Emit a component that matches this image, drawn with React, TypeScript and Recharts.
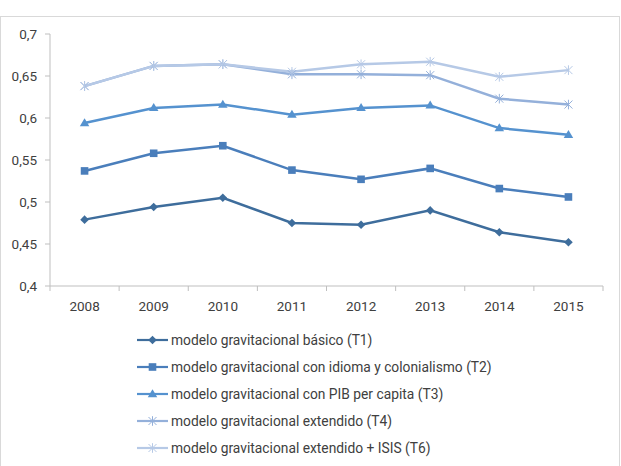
import React from 'react';
import { LineChart, Line, XAxis, YAxis, Legend } from 'recharts';

// Categories
const years = [2008, 2009, 2010, 2011, 2012, 2013, 2014, 2015];

// Series values per year
const basico = [0.479, 0.494, 0.505, 0.475, 0.473, 0.49, 0.464, 0.452];
const idiomaColonialismo = [0.537, 0.558, 0.567, 0.538, 0.527, 0.54, 0.516, 0.506];
const pibPerCapita = [0.594, 0.612, 0.616, 0.604, 0.612, 0.615, 0.588, 0.58];
const extendido = [0.638, 0.662, 0.664, 0.652, 0.652, 0.651, 0.623, 0.616];
const extendidoIsis = [0.638, 0.662, 0.664, 0.655, 0.664, 0.667, 0.649, 0.657];

// Axis ticks
const yTicks = [0.4, 0.45, 0.5, 0.55, 0.6, 0.65, 0.7];

const seriesNames = [
  'modelo gravitacional básico (T1)',
  'modelo gravitacional con idioma y colonialismo (T2)',
  'modelo gravitacional con PIB per capita (T3)',
  'modelo gravitacional extendido (T4)',
  'modelo gravitacional extendido + ISIS (T6)',
];

const data = years.map((year, i) => ({
  year,
  t1: basico[i],
  t2: idiomaColonialismo[i],
  t3: pibPerCapita[i],
  t4: extendido[i],
  t6: extendidoIsis[i],
}));

const FONT = 'Roboto, "DejaVu Sans", sans-serif';
const AXIS_FONT_SIZE = 13.5;
const LEGEND_FONT_SIZE = 13.8;
const TEXT = '#404040';
const AXIS = '#BFBFBF';

const CHART_W = 621;
const CHART_H = 466;
const MARGIN = { top: 34, right: 18, bottom: 150, left: 0 };
const Y_AXIS_W = 50;
const PLOT_W = CHART_W - MARGIN.left - MARGIN.right - Y_AXIS_W;
const BAND = PLOT_W / years.length;

type MarkerKind = 'diamond' | 'square' | 'triangle' | 'star';

const COLORS = ['#3E6D9C', '#4A7EBB', '#5592CF', '#94B0DA', '#B6C9E6'];
const MARKERS: MarkerKind[] = ['diamond', 'square', 'triangle', 'star', 'star'];

function Marker({ kind, cx, cy, color }: { kind: MarkerKind; cx: number; cy: number; color: string }) {
  if (kind === 'diamond') {
    const r = 4.3;
    return <path d={`M${cx},${cy - r}L${cx + r},${cy}L${cx},${cy + r}L${cx - r},${cy}Z`} fill={color} />;
  }
  if (kind === 'square') {
    const s = 7.6;
    return <rect x={cx - s / 2} y={cy - s / 2} width={s} height={s} fill={color} />;
  }
  if (kind === 'triangle') {
    const w = 9.5;
    const h = 8;
    return (
      <path
        d={`M${cx},${cy - h * 0.6}L${cx + w / 2},${cy + h * 0.4}L${cx - w / 2},${cy + h * 0.4}Z`}
        fill={color}
      />
    );
  }
  const r = 4;
  return (
    <g stroke={color} strokeWidth={1} fill="none">
      <line x1={cx - r} y1={cy - r} x2={cx + r} y2={cy + r} />
      <line x1={cx - r} y1={cy + r} x2={cx + r} y2={cy - r} />
      <line x1={cx} y1={cy - r * 1.2} x2={cx} y2={cy + r * 1.2} />
    </g>
  );
}

function makeDot(kind: MarkerKind, color: string) {
  return (props: any) => {
    const { cx, cy, index } = props;
    if (cx == null || cy == null) return <g key={`e-${index}`} />;
    return (
      <g key={`m-${kind}-${index}`}>
        <Marker kind={kind} cx={cx} cy={cy} color={color} />
      </g>
    );
  };
}

// Year labels with tick marks on the category boundaries
function YearTick(props: any) {
  const { x, y, payload, index, visibleTicksCount } = props;
  const axisY = y - 15;
  const isLast = index === visibleTicksCount - 1;
  return (
    <g>
      <line x1={x - BAND / 2} y1={axisY} x2={x - BAND / 2} y2={axisY + 5} stroke={AXIS} strokeWidth={1} />
      {isLast && (
        <line x1={x + BAND / 2} y1={axisY} x2={x + BAND / 2} y2={axisY + 5} stroke={AXIS} strokeWidth={1} />
      )}
      <text x={x} y={y} dy="0.71em" textAnchor="middle" fill={TEXT} fontSize={AXIS_FONT_SIZE} fontFamily={FONT}>
        {String(payload.value)}
      </text>
    </g>
  );
}

function LegendContent() {
  return (
    <div style={{ fontFamily: FONT, fontSize: LEGEND_FONT_SIZE, color: TEXT }}>
      {seriesNames.map((name, i) => (
        <div key={name} style={{ display: 'flex', alignItems: 'center', height: 27 }}>
          <svg width={34} height={12} style={{ display: 'block' }}>
            <line x1={0} y1={6} x2={31} y2={6} stroke={COLORS[i]} strokeWidth={2.2} />
            <Marker kind={MARKERS[i]} cx={15.5} cy={6} color={COLORS[i]} />
          </svg>
          <span style={{ whiteSpace: 'nowrap' }}>{name}</span>
        </div>
      ))}
    </div>
  );
}

const keys = ['t1', 't2', 't3', 't4', 't6'];

export default function App() {
  return (
    <div style={{ position: 'absolute', left: 0, top: 0, width: CHART_W, height: CHART_H, background: '#fff', overflow: 'hidden' }}>
      <div
        style={{
          position: 'absolute',
          left: 0,
          top: 16,
          width: 620,
          height: 450,
          boxSizing: 'border-box',
          borderTop: '1px solid #D9D9D9',
          borderLeft: '1px solid #D9D9D9',
          borderRight: '1px solid #D9D9D9',
        }}
      />
      <div style={{ position: 'absolute', left: 0, top: 0 }}>
        <LineChart width={CHART_W} height={CHART_H} data={data} margin={MARGIN}>
          <XAxis
            dataKey="year"
            type="number"
            domain={[2007.5, 2015.5]}
            ticks={years}
            interval={0}
            stroke={AXIS}
            tickLine={false}
            tickSize={5}
            tickMargin={10}
            height={30}
            tick={<YearTick />}
          />
          <YAxis
            type="number"
            domain={[0.4, 0.7]}
            ticks={yTicks}
            interval={0}
            width={Y_AXIS_W}
            stroke={AXIS}
            tickSize={5}
            tickMargin={8}
            tickFormatter={(v: number) => String(v).replace('.', ',')}
            tick={{ fill: TEXT, fontSize: AXIS_FONT_SIZE, fontFamily: FONT }}
          />
          <Legend
            verticalAlign="middle"
            align="center"
            layout="horizontal"
            content={<LegendContent />}
            wrapperStyle={{ position: 'absolute', left: 137, top: 326, width: 440, height: 138 }}
          />
          {keys.map((k, i) => (
            <Line
              key={k}
              dataKey={k}
              name={seriesNames[i]}
              stroke={COLORS[i]}
              strokeWidth={2.5}
              dot={makeDot(MARKERS[i], COLORS[i])}
              activeDot={false}
              isAnimationActive={false}
            />
          ))}
        </LineChart>
      </div>
    </div>
  );
}
